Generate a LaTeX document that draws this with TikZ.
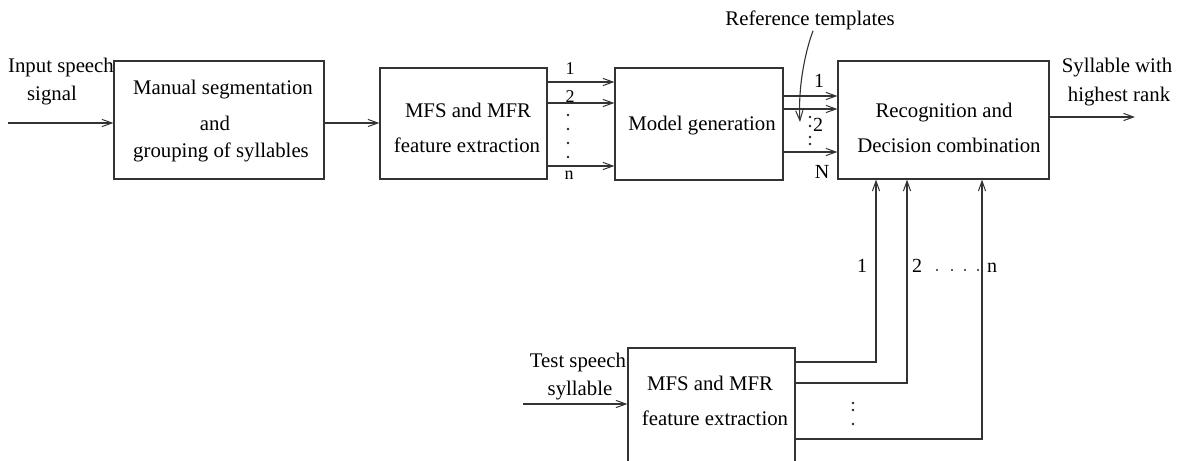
\documentclass[tikz,border=0pt]{standalone}
\usepackage{fontspec}
\setmainfont{Liberation Serif}
\usetikzlibrary{arrows.meta}
\begin{document}
\begin{tikzpicture}[x=0.5pt,y=-0.5pt,
  box/.style={draw=black!80, line width=0.6pt, inner sep=0pt},
  txt/.style={font=\fontsize{10.4}{12}\selectfont, inner sep=0pt, anchor=base},
  lbl/.style={font=\fontsize{10}{12}\selectfont, inner sep=0pt, anchor=base},
  slbl/.style={lbl, font=\fontsize{9}{11}\selectfont},
  wire/.style={draw=black!80, line width=0.55pt},
  arr/.style={wire, -{Straight Barb[length=5pt,width=3.6pt,line width=0.5pt]}},
  dot/.style={fill=black!85}]
\useasboundingbox (0,0) rectangle (1186,460);
\clip (0,0) rectangle (1186,460);

% processing blocks
\node[box, minimum width=105pt,  minimum height=59pt]   (seg) at (219,120)   {};
\node[box, minimum width=83.5pt, minimum height=55.5pt] (fe)  at (463.5,123.5) {};
\node[box, minimum width=84pt,   minimum height=56pt]   (mg)  at (699,124)   {};
\node[box, minimum width=105.5pt,minimum height=59pt]   (rec) at (943.5,120) {};
\node[box, minimum width=83.5pt, minimum height=66pt]   (tfe) at (711.5,414) {};

% block texts
\node[txt] (seg1) at (223,95)  {Manual segmentation};
\node[txt] (seg2) at (215,130) {and};
\node[txt] (seg3) at (221,157) {grouping of syllables};
\node[txt] (fe1)  at (468,117) {MFS and MFR};
\node[txt] (fe2)  at (467,152) {feature extraction};
\node[txt] (mg1)  at (702,130) {Model generation};
\node[txt] (rec1) at (944,117) {Recognition and};
\node[txt] (rec2) at (949,152) {Decision combination};
\node[txt] (tfe1) at (710,390) {MFS and MFR};
\node[txt] (tfe2) at (715,425) {feature extraction};

% free texts
\node[txt] (in1)  at (61,73)    {Input speech};
\node[txt] (in2)  at (52,100)   {signal};
\node[txt] (out1) at (1117,73)  {Syllable with};
\node[txt] (out2) at (1119,101) {highest rank};
\node[txt] (ref)  at (810,26)   {Reference templates};
\node[txt] (ts1)  at (578,367)  {Test speech};
\node[txt] (ts2)  at (580,395)  {syllable};

% helper rows and columns
\coordinate (inS)  at (8,123);
\coordinate (a1) at (0,82);  \coordinate (a2) at (0,103); \coordinate (an) at (0,166);
\coordinate (b1) at (0,96);  \coordinate (b2) at (0,109); \coordinate (bn) at (0,152);
\coordinate (outE) at (1135,117);
\coordinate (tsS) at (523,404);
\coordinate (q1) at (0,362); \coordinate (q2) at (0,383); \coordinate (qn) at (0,439);
\coordinate (c1) at (876,0); \coordinate (c2) at (907,0); \coordinate (cn) at (982,0);
\coordinate (rtip) at (800,122);

% training path
\draw[arr] (inS) -- (seg.west |- inS);
\draw[arr] (seg.east |- inS) -- (fe.west |- inS);
\draw[arr] (fe.east |- a1) -- (mg.west |- a1);
\draw[arr] (fe.east |- a2) -- (mg.west |- a2);
\draw[arr] (fe.east |- an) -- (mg.west |- an);
\draw[arr] (mg.east |- b1) -- (rec.west |- b1);
\draw[arr] (mg.east |- b2) -- (rec.west |- b2);
\draw[arr] (mg.east |- bn) -- (rec.west |- bn);
\draw[arr] (rec.east |- outE) -- (outE);
\draw[arr] ([xshift=1.5pt]ref.south) .. controls (804,55) and (798,90) .. (rtip);

% test path
\draw[arr] (tsS) -- (tfe.west |- tsS);
\draw[arr] (tfe.east |- q1) -| (rec.south -| c1);
\draw[arr] (tfe.east |- q2) -| (rec.south -| c2);
\draw[arr] (tfe.east |- qn) -| (rec.south -| cn);

% channel labels
\node[slbl] (fa1) at (570,75)  {1};
\node[slbl] (fa2) at (570,103) {2};
\node[slbl] (fan) at (569,179) {n};
\foreach \y in {115,129,143,157} \fill[dot] (568,\y) circle (0.65pt);

\node[lbl] (mb1) at (819,88)  {1};
\node[lbl] (mb2) at (818,131) {2};
\node[lbl] (mbn) at (822,178) {N};
\foreach \y in {117,126,137,144} \fill[dot] (810,\y) circle (0.65pt);

\node[lbl] (tc1) at (862,272) {1};
\node[lbl] (tc2) at (917,272) {2};
\node[lbl] (tcn) at (992,272) {n};
\foreach \x in {937,952,965,978} \fill[dot] (\x,270) circle (0.6pt);
\foreach \y in {403,410,424} \fill[dot] (853,\y) circle (0.65pt);
\end{tikzpicture}
\end{document}
